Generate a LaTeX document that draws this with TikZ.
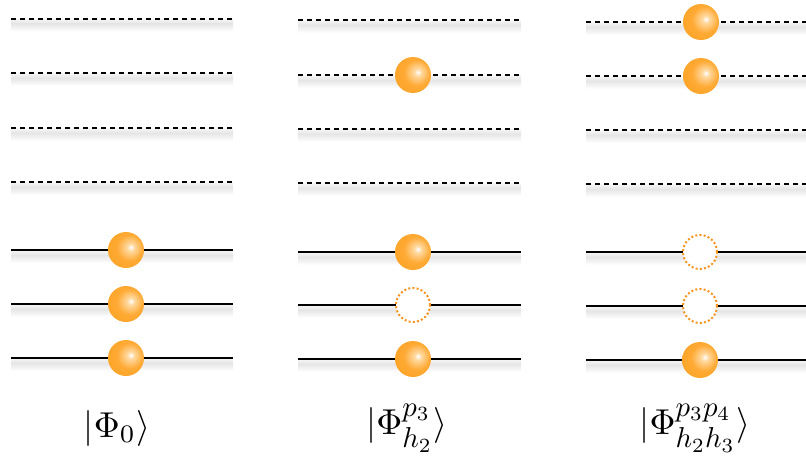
\documentclass[tikz,border=0pt]{standalone}
\usepackage{graphicx}
\usetikzlibrary{shadings}

\definecolor{holeorange}{HTML}{F7941D}
\definecolor{ballA}{HTML}{FFD9A0}
\definecolor{ballB}{HTML}{FFAA35}
\definecolor{ballC}{HTML}{F39200}
\definecolor{shadowgray}{gray}{0.9}

% orange sphere with an off-centre highlight
\pgfdeclareradialshading{orangeball}{\pgfpoint{7bp}{4bp}}{%
  color(0bp)=(white); color(5bp)=(ballA); color(18bp)=(ballB);
  color(40bp)=(ballB!60!ballC); color(56bp)=(ballC); color(80bp)=(ballC)}

% one energy level with its soft shadow: x1, x2, y, line style
\newcommand\energylevel[4]{%
  \shade[top color=shadowgray!40, bottom color=shadowgray] (#1,#3+0.5) rectangle (#2,#3+5);
  \shade[top color=shadowgray, bottom color=white] (#1,#3+5) rectangle (#2,#3+13);
  \draw[#4] (#1,#3) -- (#2,#3);}

% enlarged indices for the state labels
\newcommand\idx[1]{\scalebox{0.8}{$#1$}}

\tikzset{
  occupied/.style={line width=2.2pt, black},
  virtual/.style={line width=2pt, black, dash pattern=on 5pt off 4pt},
  particle/.style={circle, minimum size=36pt, inner sep=0pt, shade, shading=orangeball},
  hole/.style={circle, minimum size=34pt, inner sep=0pt, fill=white, draw=holeorange,
    line width=2pt, dash pattern=on 2pt off 2.2pt},
  statelabel/.style={inner sep=0pt, scale=3.6, transform shape},
}

\begin{document}
\begin{tikzpicture}[x=1pt,y=-1pt]
\useasboundingbox (0,0) rectangle (806,459);

% reference state
\foreach \y in {18.5,73,128,182} {\energylevel{11}{233}{\y}{virtual}}
\foreach \y in {250,304,358} {\energylevel{11}{233}{\y}{occupied}}
\node[particle] (a1) at (126,250) {};
\node[particle] (a2) at (126,304) {};
\node[particle] (a3) at (126,358) {};
\node[statelabel] (la) at (117,428) {$|\Phi_0\rangle$};

% single excitation
\foreach \y in {20,75,129,183} {\energylevel{298}{521}{\y}{virtual}}
\foreach \y in {252,305,359} {\energylevel{298}{521}{\y}{occupied}}
\node[particle] (b0) at (413,75) {};
\node[particle] (b1) at (413,252) {};
\node[hole] (b2) at (413,305) {};
\node[particle] (b3) at (413,359) {};
\node[statelabel] (lb) at (407,428) {$|\Phi^{\idx{p_3}}_{\idx{h_2}}\rangle$};

% double excitation
\foreach \y in {22,76,130,184} {\energylevel{586}{806}{\y}{virtual}}
\foreach \y in {252,306,360} {\energylevel{586}{806}{\y}{occupied}}
\node[particle] (c0) at (701,22) {};
\node[particle] (c1) at (701,76) {};
\node[hole] (c2) at (700,252) {};
\node[hole] (c3) at (700,306) {};
\node[particle] (c4) at (700,360) {};
\node[statelabel] (lc) at (695,428) {$|\Phi^{\idx{p_3p_4}}_{\idx{h_2h_3}}\rangle$};
\end{tikzpicture}
\end{document}
